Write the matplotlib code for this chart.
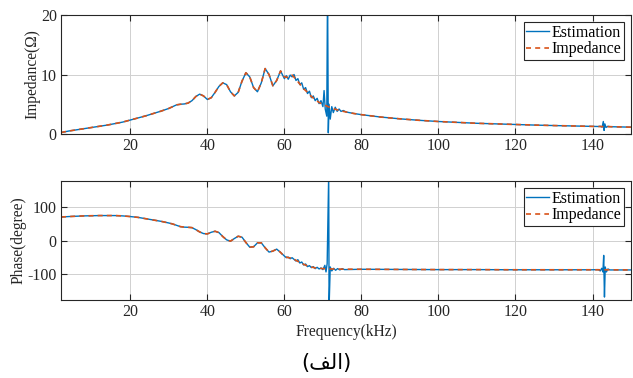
import numpy as np
import matplotlib.pyplot as plt

plt.rcParams['font.family'] = ['Liberation Serif', 'DejaVu Serif']
plt.rcParams['axes.unicode_minus'] = False

# reference curve (Impedance), magnitude in ohm
imp_f = [2, 4, 6, 8, 10, 12, 14, 16, 18, 20, 22, 24, 26, 28, 30, 31, 32, 33, 34, 35,
         36, 37, 38, 39, 40, 41, 42, 43, 44, 45, 46, 47, 48, 49, 50, 51, 52, 53, 54,
         55, 56, 57, 58, 59, 60, 61, 62, 63, 64, 65, 66, 67, 68, 69, 70, 71, 72, 74,
         76, 78, 80, 85, 90, 95, 100, 105, 110, 115, 120, 125, 130, 135, 140, 145, 150]
imp_z = [0.25, 0.5, 0.7, 0.9, 1.1, 1.3, 1.5, 1.75, 2.0, 2.35, 2.7, 3.05, 3.45, 3.85,
         4.3, 4.6, 4.9, 5.0, 5.05, 5.2, 5.6, 6.3, 6.7, 6.4, 5.8, 6.1, 7.0, 8.0, 8.6,
         8.3, 7.1, 6.4, 7.0, 8.9, 10.3, 9.6, 7.8, 7.1, 8.6, 11.0, 10.0, 8.1, 9.0, 10.6,
         9.6, 9.5, 9.9, 9.2, 8.4, 7.6, 7.0, 6.3, 5.8, 5.3, 5.0, 4.7, 4.4, 4.0, 3.7,
         3.45, 3.25, 2.85, 2.55, 2.3, 2.1, 1.95, 1.8, 1.7, 1.6, 1.5, 1.42, 1.35, 1.28,
         1.22, 1.15]

# reference curve (Impedance), phase in degree
ph_f = [2, 4, 6, 8, 10, 12, 14, 16, 18, 20, 22, 24, 26, 28, 30, 31, 32, 33, 34, 35,
        36, 37, 38, 39, 40, 41, 42, 43, 44, 45, 46, 47, 48, 49, 50, 51, 52, 53, 54,
        55, 56, 57, 58, 59, 60, 61, 62, 63, 64, 65, 66, 67, 68, 69, 70, 72, 75, 80,
        90, 100, 110, 120, 130, 140, 150]
ph_z = [71, 72.5, 73.5, 74.5, 75, 75.5, 75.5, 75.5, 74.5, 72.5, 70, 66, 62, 58, 53,
        50, 46, 42, 40.5, 40, 39, 33, 26, 21, 20, 25, 28, 24, 12, 2, -2, 6, 13, 10,
        -6, -20, -19, -7, -7, -22, -35, -32, -26, -36, -48, -52, -53, -60, -66, -72,
        -77, -80, -83, -84, -85, -86, -86.5, -87, -87.5, -88, -88, -88.5, -88.5,
        -88.5, -89]

# estimation: noisy parts around the two resonances
est_noise_f = [60, 60.5, 61, 61.5, 62, 62.5, 63, 63.5, 64, 64.5, 65, 65.5, 66, 66.5,
               67, 67.5, 68, 68.5, 69, 69.5, 70, 70.3, 70.6, 71.0, 71.2, 71.4, 71.6,
               71.9, 72.3, 72.7, 73.2, 73.7, 74.2, 74.7, 75.3,
               141.5, 142, 142.5, 142.8, 143.0, 143.2, 143.5, 144, 144.5]
est_noise_z = [9.3, 9.8, 9.2, 9.9, 9.6, 10.0, 9.0, 9.3, 8.3, 8.6, 7.5, 7.8, 6.8, 7.2,
               6.1, 6.4, 5.6, 6.0, 5.1, 5.6, 4.6, 7.3, 4.2, 3.0, 25, 0.2, 5.0,
               2.5, 4.6, 3.6, 4.5, 3.8, 4.2, 3.8, 3.95,
               1.26, 1.3, 1.15, 2.1, 0.6, 1.7, 1.1, 1.3, 1.24]
est_ph_noise_f = [60, 60.5, 61, 61.5, 62, 63, 63.5, 64, 64.5, 65, 65.5, 66, 66.5, 67,
                  67.5, 68, 68.5, 69, 69.5, 70, 70.5, 70.8, 71.1, 71.5, 71.6, 71.9,
                  72.3, 72.8, 73.3, 73.8, 74.4, 75, 75.6,
                  141.5, 142, 142.4, 142.7, 142.9, 143.1, 143.3, 143.6, 144, 144.5]
est_ph_noise_z = [-47, -52, -50, -55, -52, -62, -58, -68, -65, -74, -71, -79, -76, -82,
                  -79, -85, -81, -86, -83, -88, -75, -95, -70, 200, -200, -80,
                  -92, -84, -90, -85, -89, -85, -88,
                  -88, -92, -84, -95, -45, -171, -80, -95, -86, -89]

windows = [(59.9, 75.9), (141.4, 144.6)]


def merge(base_f, base_z, noise_f, noise_z):
    pts = [(f, z) for f, z in zip(base_f, base_z)
           if not any(a <= f <= b for a, b in windows)]
    pts += list(zip(noise_f, noise_z))
    pts.sort()
    return [p[0] for p in pts], [p[1] for p in pts]


est_f, est_z = merge(imp_f, imp_z, est_noise_f, est_noise_z)
est_pf, est_pz = merge(ph_f, ph_z, est_ph_noise_f, est_ph_noise_z)

blue = '#0072BD'
orange = '#D95319'
fs_tick = 11.5
fs_lab = 11.2
fs_leg = 11.5

fig = plt.figure(figsize=(6.33, 3.78), dpi=100)
ax1 = fig.add_axes([0.0964, 0.6455, 0.9005, 0.3148])
ax2 = fig.add_axes([0.0964, 0.2063, 0.9005, 0.3148])


def style(ax):
    ax.set_xlim(2, 150)
    ax.set_xticks([20, 40, 60, 80, 100, 120, 140])
    ax.grid(True, color='#d0d0d0', linewidth=0.7)
    ax.set_axisbelow(True)
    ax.tick_params(direction='in', top=True, right=True, length=4, width=0.8,
                   labelsize=fs_tick, colors='#262626', pad=3)
    for s in ax.spines.values():
        s.set_linewidth(0.8)
        s.set_color('#262626')
    leg = ax.legend(loc='upper right', fontsize=fs_leg, fancybox=False, framealpha=1,
                    edgecolor='#262626', handlelength=1.45, handletextpad=0.15,
                    borderpad=0.15, labelspacing=0.05, borderaxespad=0.45)
    leg.get_frame().set_linewidth(0.8)


ax1.plot(est_f, est_z, color=blue, lw=1.0, label='Estimation')
ax1.plot(imp_f, imp_z, color=orange, lw=1.2, ls=(0, (3, 2.5)), label='Impedance')
ax1.set_ylim(0, 20)
ax1.set_yticks([0, 10, 20])
ax1.set_ylabel('Impedance(Ω)', fontsize=fs_lab, labelpad=0.5, color='#262626')
style(ax1)

ax2.plot(est_pf, est_pz, color=blue, lw=1.0, label='Estimation')
ax2.plot(ph_f, ph_z, color=orange, lw=1.2, ls=(0, (3, 2.5)), label='Impedance')
ax2.set_ylim(-180, 180)
ax2.set_yticks([-100, 0, 100])
ax2.set_ylabel('Phase(degree)', fontsize=fs_lab, labelpad=1, color='#262626')
ax2.set_xlabel('Frequency(kHz)', fontsize=fs_lab, labelpad=3, color='#262626')
style(ax2)

# caption (Arabic, presentation forms in visual order)
fig.text(0.515, 0.04, '(\ufed2\ufedf\ufe8d)', ha='center', va='center', fontsize=15,
         family=['DejaVu Sans'])

fig.savefig('out.png', dpi=100)
